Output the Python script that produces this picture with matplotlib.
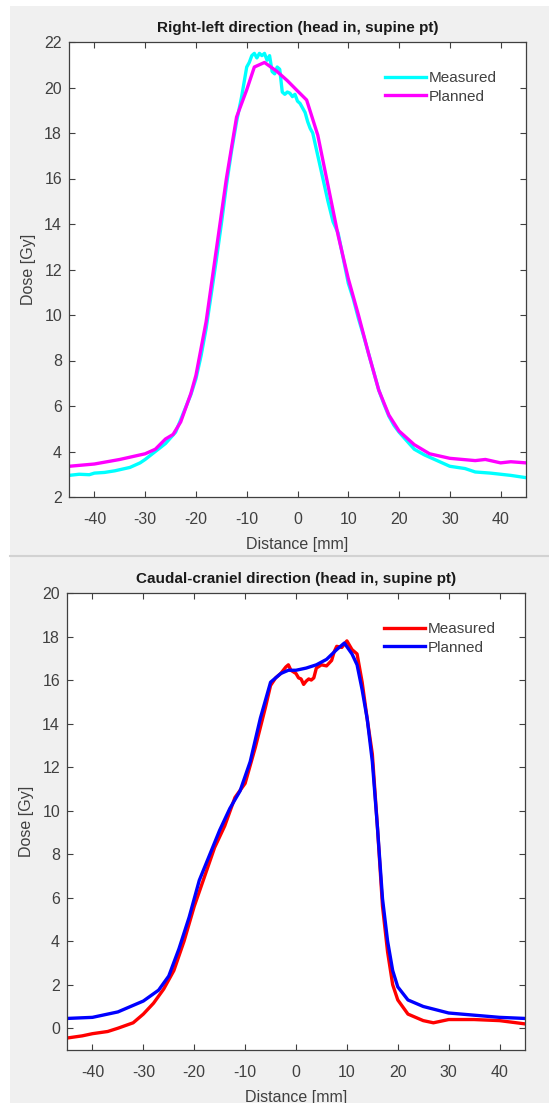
import matplotlib.pyplot as plt
from matplotlib.patches import Rectangle
from matplotlib.lines import Line2D

plt.rcParams['font.family'] = ['Liberation Sans', 'DejaVu Sans']
plt.rcParams['axes.unicode_minus'] = False  # MATLAB-style hyphen minus

# Right-left profile
rl_measured_x = [-45, -43, -41, -40, -38, -36, -35, -33, -31, -30, -28, -26, -25, -24, -23, -22, -21,
                 -20, -19, -18, -17, -16, -15, -14, -13, -12, -11, -10.5, -10, -9.5, -9, -8.5, -8,
                 -7.5, -7, -6.5, -6, -5.5, -5, -4.5, -4, -3.5, -3, -2.5, -2, -1.5, -1, -0.5, 0,
                 0.5, 1, 1.5, 2, 2.5, 3, 4, 5, 6, 7, 8, 9, 10, 11, 12, 13, 14, 15, 16, 17, 18,
                 19, 20, 21, 23, 25, 27, 30, 33, 35, 38, 40, 42, 45]
rl_measured_y = [2.95, 3.0, 2.98, 3.05, 3.08, 3.15, 3.2, 3.3, 3.5, 3.65, 4.0, 4.35, 4.6, 4.85, 5.4, 5.95,
                 6.5, 7.2, 8.2, 9.4, 10.9, 12.4, 14.0, 15.7, 17.2, 18.5, 19.6, 20.25, 20.9, 21.1,
                 21.4, 21.5, 21.3, 21.5, 21.4, 21.5, 21.2, 21.4, 20.7, 20.6, 20.9, 20.8, 19.8, 19.7,
                 19.8, 19.75, 19.6, 19.7, 19.4, 19.3, 19.1, 18.9, 18.5, 18.2, 18.0, 17.0, 16.0,
                 15.0, 14.1, 13.6, 12.5, 11.4, 10.7, 9.85, 9.1, 8.3, 7.5, 6.7, 6.1, 5.55, 5.15,
                 4.85, 4.6, 4.1, 3.85, 3.65, 3.35, 3.25, 3.1, 3.05, 3.0, 2.95, 2.85]
rl_planned_x = [-45, -40, -35, -30, -28, -26, -24.5, -23, -21, -20, -18, -16, -14, -12, -10, -8.5,
                -6.5, -4, -2, 0, 1.8, 4, 6, 8, 10, 12, 14, 16, 18, 20, 23, 26, 30, 35, 37, 40, 42, 45]
rl_planned_y = [3.35, 3.45, 3.65, 3.9, 4.1, 4.55, 4.75, 5.3, 6.55, 7.35, 9.7, 12.85, 16.0, 18.7, 19.9,
                20.9, 21.1, 20.7, 20.3, 19.85, 19.45, 17.9, 15.7, 13.5, 11.6, 10.0, 8.3, 6.7, 5.6,
                4.9, 4.3, 3.9, 3.7, 3.6, 3.65, 3.5, 3.55, 3.5]

# Caudal-craniel profile
cc_measured_x = [-45, -42, -40, -37, -35, -32, -30, -28, -26, -24, -22, -20, -18, -16, -14, -12, -10,
                 -8, -6, -5, -4, -3, -2, -1.5, -1, 0, 0.5, 1, 1.5, 2, 2.5, 3, 3.5, 4, 5, 6, 7, 7.5,
                 8, 9, 10, 10.5, 11, 12, 13, 14, 15, 16, 17, 18, 19, 20, 22, 25, 27, 30, 35, 40, 45]
cc_measured_y = [-0.45, -0.35, -0.25, -0.15, 0.0, 0.25, 0.65, 1.15, 1.8, 2.65, 4.0, 5.6, 6.95, 8.3,
                 9.3, 10.6, 11.25, 12.9, 14.75, 15.75, 16.1, 16.3, 16.6, 16.7, 16.45, 16.3, 16.1,
                 16.05, 15.8, 15.95, 16.05, 16.0, 16.1, 16.55, 16.7, 16.65, 16.9, 17.3, 17.55,
                 17.5, 17.8, 17.6, 17.4, 17.2, 15.9, 14.2, 12.6, 9.25, 5.6, 3.5, 2.0, 1.3, 0.65,
                 0.35, 0.25, 0.4, 0.4, 0.35, 0.2]
cc_planned_x = [-45, -40, -35, -30, -27, -25, -23, -21, -19, -17, -15, -13, -11, -9, -7, -5, -3,
                -1.5, 0, 2, 4, 6, 8, 9.5, 11, 12, 13, 14, 15, 16, 17, 18, 19, 20, 22, 25, 30, 35, 40, 45]
cc_planned_y = [0.45, 0.5, 0.75, 1.25, 1.75, 2.4, 3.65, 5.1, 6.8, 7.95, 9.1, 10.1, 10.9, 12.25,
                14.25, 15.9, 16.3, 16.45, 16.45, 16.55, 16.7, 16.95, 17.4, 17.7, 17.2, 16.7, 15.55,
                14.2, 12.25, 9.25, 5.95, 4.0, 2.65, 1.9, 1.3, 1.0, 0.7, 0.6, 0.5, 0.45]

W, H = 549, 1103
fig = plt.figure(figsize=(W / 100, H / 100), dpi=100)
fig.patch.set_facecolor('white')
fig.add_artist(Rectangle((10 / W, 0), 1, 1 - 6 / H, transform=fig.transFigure,
                         facecolor='#f0f0f0', edgecolor='none', zorder=-10))
fig.add_artist(Line2D([10 / W, 1], [1 - 556 / H, 1 - 556 / H], transform=fig.transFigure,
                      color='#d2d2d2', lw=1.5, zorder=-5))

dark = '#404040'


def style(ax, ylim, yticks, title):
    ax.set_xlim(-45, 45)
    ax.set_ylim(*ylim)
    ax.set_xticks(range(-40, 41, 10))
    ax.set_yticks(yticks)
    ax.tick_params(direction='in', top=True, right=True, length=4, width=0.8,
                   labelsize=11.5, colors=dark, pad=5)
    ax.tick_params(axis='x', pad=11)
    for s in ax.spines.values():
        s.set_color(dark)
        s.set_linewidth(0.9)
    ax.set_xlabel('Distance [mm]', fontsize=11.5, color=dark, labelpad=7)
    ax.set_ylabel('Dose [Gy]', fontsize=11.5, color=dark, labelpad=6)
    ax.set_title(title, fontsize=11, fontweight='bold', color='#1a1a1a', pad=7)
    ax.legend(loc='upper right', frameon=False, fontsize=11, handlelength=2.7,
              handletextpad=0.2, labelspacing=0.3, borderaxespad=1.5, labelcolor=dark)


ax1 = fig.add_axes([69 / W, 1 - 497 / H, 457 / W, 455 / H])
ax1.plot(rl_measured_x, rl_measured_y, color='#00ffff', lw=2.4, label='Measured')
ax1.plot(rl_planned_x, rl_planned_y, color='#ff00ff', lw=2.4, label='Planned')
style(ax1, (2, 22), range(2, 23, 2), 'Right-left direction (head in, supine pt)')

ax2 = fig.add_axes([67 / W, 1 - 1050 / H, 458 / W, 457 / H])
ax2.plot(cc_measured_x, cc_measured_y, color='#ff0000', lw=2.4, label='Measured')
ax2.plot(cc_planned_x, cc_planned_y, color='#0000ff', lw=2.4, label='Planned')
style(ax2, (-1, 20), range(0, 21, 2), 'Caudal-craniel direction (head in, supine pt)')

fig.savefig('out.png', dpi=100)
